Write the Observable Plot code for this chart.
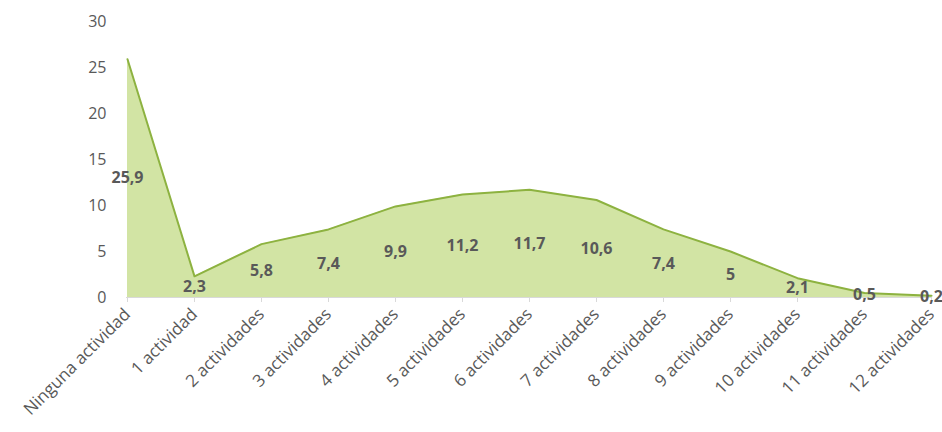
<!DOCTYPE html>
<html>
<head>
<meta charset="utf-8">
<script src="https://cdn.jsdelivr.net/npm/d3@7"></script>
<script src="https://cdn.jsdelivr.net/npm/@observablehq/plot@0.6"></script>
<style>
  html, body { margin: 0; padding: 0; background: #fff; }
  #chart svg { display: block; }
</style>
</head>
<body>
<div id="chart"></div>
<script>
const categories = [
  "Ninguna actividad", "1 actividad", "2 actividades", "3 actividades",
  "4 actividades", "5 actividades", "6 actividades", "7 actividades",
  "8 actividades", "9 actividades", "10 actividades", "11 actividades", "12 actividades"
];
const values = [25.9, 2.3, 5.8, 7.4, 9.9, 11.2, 11.7, 10.6, 7.4, 5, 2.1, 0.5, 0.2];
const yTicks = [0, 5, 10, 15, 20, 25, 30];

const data = categories.map((c, i) => ({cat: c, v: values[i]}));
const fmt = v => String(v).replace(".", ",");

const chart = Plot.plot({
  width: 942,
  height: 432,
  marginLeft: 126,
  marginRight: 10,
  marginTop: 21,
  marginBottom: 135,
  style: {fontFamily: "'Open Sans', sans-serif", color: "#595959", background: "#fff"},
  x: {type: "point", domain: categories, label: null, padding: 0},
  y: {domain: [0, 30], label: null, ticks: yTicks},
  marks: [
    Plot.areaY(data, {x: "cat", y: "v", fill: "#d2e4a4"}),
    Plot.lineY(data, {x: "cat", y: "v", stroke: "#8db240", strokeWidth: 2}),
    Plot.ruleY([0], {stroke: "#d9d9d9"}),
    Plot.axisX({tickRotate: -45, tickSize: 5, tickPadding: 9, stroke: "#d9d9d9", fontSize: 17, fill: "#595959", textAnchor: "end"}),
    Plot.axisY({ticks: yTicks, tickSize: 0, tickPadding: 20, fontSize: 16, fill: "#595959"}),
    Plot.text(data, {x: "cat", y: d => d.v / 2, text: d => fmt(d.v), fontSize: 16, fontWeight: "bold", fill: "#595959"})
  ]
});
document.getElementById("chart").appendChild(chart);
</script>
</body>
</html>
